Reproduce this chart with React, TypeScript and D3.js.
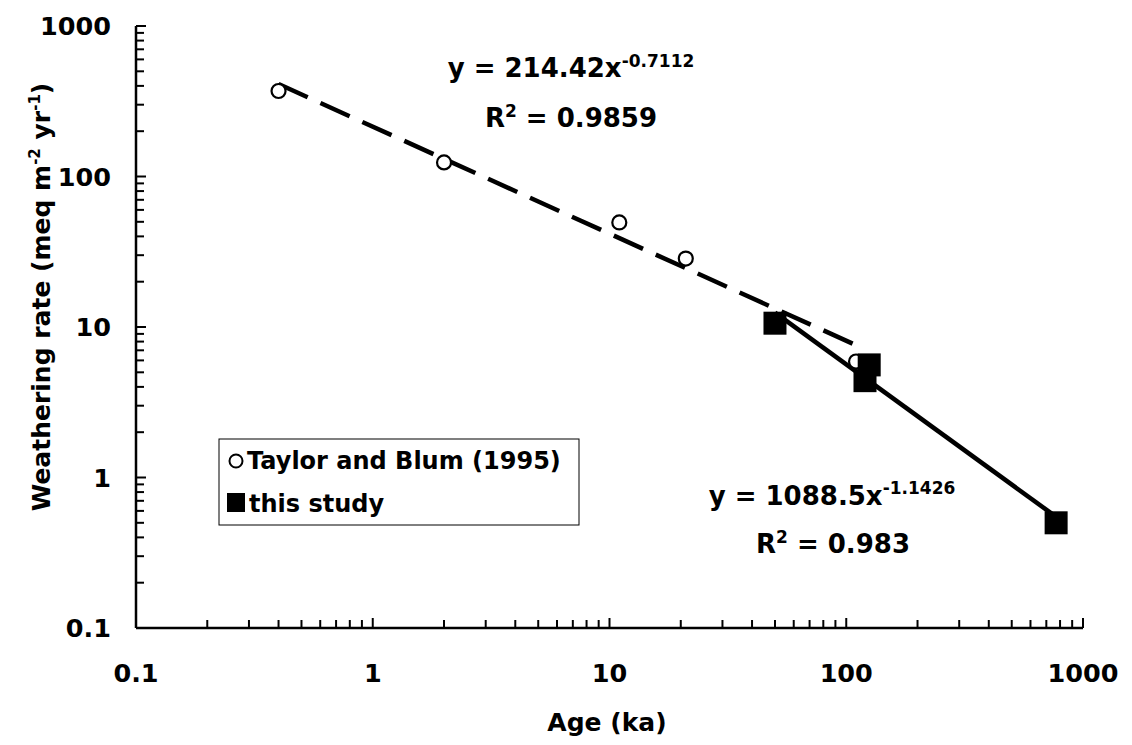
import React from 'react';
import * as d3 from 'd3';

// ---- data ----
const taylorAge = [0.4, 2, 11, 21, 110];
const taylorRate = [370, 124, 49.5, 28.5, 5.9];
const studyAge = [50, 120, 125, 770];
const studyRate = [10.6, 4.4, 5.6, 0.5];
const tickValues = [0.1, 1, 10, 100, 1000];
const tickLabels = ['0.1', '1', '10', '100', '1000'];
const fitTaylor = { coef: '214.42', exp: '-0.7112', r2: '0.9859' };
const fitStudy = { coef: '1088.5', exp: '-1.1426', r2: '0.983' };
const legendLabels = ['Taylor and Blum (1995)', 'this study'];

const W = 1132;
const H = 745;
const FONT = "'DejaVu Sans', Verdana, sans-serif";

export default function App() {
  const x = d3.scaleLog().domain([0.1, 1000]).range([136, 1083]);
  const y = d3.scaleLog().domain([0.1, 1000]).range([628, 26]);
  const allTicks = x.ticks();
  const isMajor = (t: number) => Math.abs(Math.log10(t) - Math.round(Math.log10(t))) < 1e-6;

  const fitLine = (ages: number[], fit: { coef: string; exp: string }) => {
    const [a, b] = d3.extent(ages) as [number, number];
    const c = parseFloat(fit.coef);
    const e = parseFloat(fit.exp);
    const pts: [number, number][] = [a, b].map((v) => [v, c * Math.pow(v, e)]);
    return d3
      .line<[number, number]>()
      .x((d) => x(d[0]))
      .y((d) => y(d[1]))(pts) as string;
  };

  const sq = 23;

  return (
    <svg
      width={W}
      height={H}
      style={{ position: 'absolute', left: 0, top: 0, background: '#fff' }}
    >
      <rect x={0} y={0} width={W} height={H} fill="#fff" />
      {/* axes */}
      <g stroke="#000" strokeWidth={2.5} fill="none">
        <line x1={x(0.1)} x2={x(1000)} y1={y(0.1)} y2={y(0.1)} />
        <line x1={x(0.1)} x2={x(0.1)} y1={y(0.1)} y2={y(1000)} />
      </g>
      <g stroke="#000" strokeWidth={2}>
        {allTicks.map((t, i) => (
          <line
            key={'xt' + i}
            x1={x(t)}
            x2={x(t)}
            y1={y(0.1)}
            y2={y(0.1) - (isMajor(t) ? 10 : 8)}
          />
        ))}
        {allTicks.map((t, i) => (
          <line
            key={'yt' + i}
            x1={x(0.1)}
            x2={x(0.1) + (isMajor(t) ? 10 : 8)}
            y1={y(t)}
            y2={y(t)}
          />
        ))}
      </g>
      {/* tick labels */}
      <g fontFamily={FONT} fontWeight="bold" fontSize={25.5} fill="#000">
        {tickValues.map((t, i) => (
          <text key={'xl' + i} x={x(t)} y={682} textAnchor="middle">
            {tickLabels[i]}
          </text>
        ))}
        {tickValues.map((t, i) => (
          <text key={'yl' + i} x={111} y={y(t)} dy="0.36em" textAnchor="end">
            {tickLabels[i]}
          </text>
        ))}
      </g>
      {/* axis titles */}
      <text x={607} y={731} textAnchor="middle" fontFamily={FONT} fontWeight="bold" fontSize={25}>
        Age (ka)
      </text>
      <text
        transform="translate(50,297) rotate(-90)"
        textAnchor="middle"
        fontFamily={FONT}
        fontWeight="bold"
        fontSize={25}
      >
        Weathering rate (meq m
        <tspan fontSize={15} dy={-10}>
          -2
        </tspan>
        <tspan dy={10}> yr</tspan>
        <tspan fontSize={15} dy={-10}>
          -1
        </tspan>
        <tspan dy={10}>)</tspan>
      </text>

      {/* trend lines */}
      <path
        d={fitLine(taylorAge, fitTaylor)}
        stroke="#000"
        strokeWidth={4.5}
        strokeDasharray="32,14"
        fill="none"
      />
      <path d={fitLine(studyAge, fitStudy)} stroke="#000" strokeWidth={4.5} fill="none" />

      {/* markers */}
      {taylorAge.map((a, i) => (
        <circle
          key={'c' + i}
          cx={x(a)}
          cy={y(taylorRate[i])}
          r={7}
          fill="#fff"
          stroke="#000"
          strokeWidth={2.2}
        />
      ))}
      {studyAge.map((a, i) => (
        <rect
          key={'s' + i}
          x={x(a) - sq / 2}
          y={y(studyRate[i]) - sq / 2}
          width={sq}
          height={sq}
          fill="#000"
        />
      ))}

      {/* equations */}
      <g fontFamily={FONT} fontWeight="bold" fill="#000">
        <text x={571} y={77} textAnchor="middle" fontSize={26}>
          y = {fitTaylor.coef}x
          <tspan fontSize={17} dy={-10}>
            {fitTaylor.exp}
          </tspan>
        </text>
        <text x={571} y={127} textAnchor="middle" fontSize={26}>
          R
          <tspan fontSize={17} dy={-10}>
            2
          </tspan>
          <tspan dy={10}> = {fitTaylor.r2}</tspan>
        </text>
        <text x={832} y={505} textAnchor="middle" fontSize={26}>
          y = {fitStudy.coef}x
          <tspan fontSize={17} dy={-11}>
            {fitStudy.exp}
          </tspan>
        </text>
        <text x={833} y={553} textAnchor="middle" fontSize={26}>
          R
          <tspan fontSize={17} dy={-10}>
            2
          </tspan>
          <tspan dy={10}> = {fitStudy.r2}</tspan>
        </text>
      </g>

      {/* legend */}
      <rect x={219} y={439} width={360} height={86} fill="#fff" stroke="#000" strokeWidth={1} />
      <circle cx={236} cy={461} r={6.5} fill="#fff" stroke="#000" strokeWidth={2} />
      <rect x={227} y={493} width={18} height={19} fill="#000" />
      <g fontFamily={FONT} fontWeight="bold" fontSize={24} fill="#000">
        <text x={247} y={469}>
          {legendLabels[0]}
        </text>
        <text x={249} y={512}>
          {legendLabels[1]}
        </text>
      </g>
    </svg>
  );
}
